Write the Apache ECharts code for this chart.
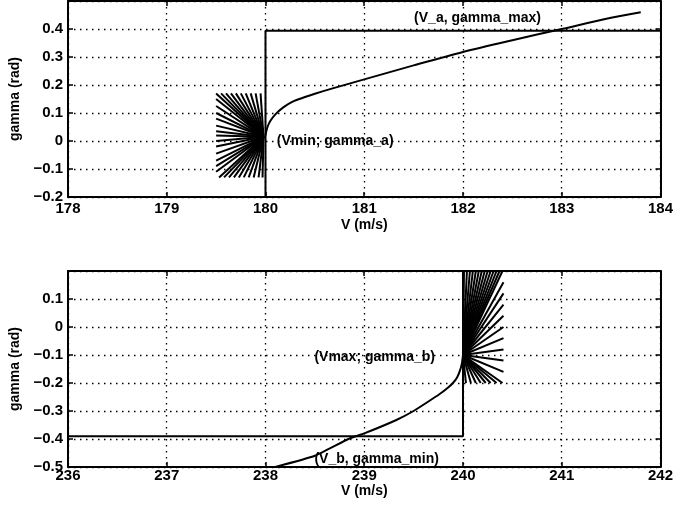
<!DOCTYPE html>
<html>
<head>
<meta charset="utf-8">
<script src="https://cdn.jsdelivr.net/npm/echarts@6/dist/echarts.min.js"></script>
<style>
  html, body { margin: 0; padding: 0; background: #fff; }
  #chart { width: 676px; height: 516px; }
</style>
</head>
<body>
<div id="chart"></div>
<script>
// upper subplot: near Vmin
var topCurveV = [180.0, 180.02, 180.05, 180.1, 180.18, 180.27, 180.4, 180.5, 180.68, 181.0, 181.5, 182.0, 182.5, 183.0, 183.5, 183.8];
var topCurveG = [0.02, 0.05, 0.072, 0.095, 0.12, 0.14, 0.157, 0.169, 0.188, 0.22, 0.27, 0.318, 0.36, 0.4, 0.44, 0.46];
var topBoundV = [184, 180, 180, 184];
var topBoundG = [-0.2, -0.2, 0.394, 0.394];
var fanACenter = [179.98, 0.015];
var fanAEndV = [179.50, 179.55, 179.60, 179.65, 179.70, 179.75, 179.80, 179.85, 179.90, 179.95,
                179.50, 179.50, 179.50, 179.50, 179.50, 179.50, 179.50, 179.50, 179.50, 179.50, 179.50, 179.50, 179.50,
                179.53, 179.58, 179.63, 179.68, 179.73, 179.78, 179.83, 179.88, 179.93, 179.97];
var fanAEndG = [0.17, 0.17, 0.17, 0.17, 0.17, 0.17, 0.17, 0.17, 0.17, 0.17,
                0.15, 0.125, 0.10, 0.08, 0.055, 0.035, 0.02, 0.0, -0.02, -0.045, -0.07, -0.09, -0.11,
                -0.13, -0.13, -0.13, -0.13, -0.13, -0.13, -0.13, -0.13, -0.13, -0.13];

// lower subplot: near Vmax
var botCurveV = [238.1, 238.5, 238.84, 239.0, 239.32, 239.5, 239.65, 239.75, 239.85, 239.9, 239.94, 239.97, 239.99, 240.0];
var botCurveG = [-0.5, -0.46, -0.4, -0.38, -0.333, -0.3, -0.266, -0.243, -0.216, -0.199, -0.18, -0.155, -0.128, -0.1];
var botBoundV = [236, 240, 240];
var botBoundG = [-0.39, -0.39, 0.2];
var fanBCenter = [240.0, -0.1];
var fanBEndV = [240.01, 240.04, 240.07, 240.10, 240.13, 240.16, 240.19, 240.22, 240.25, 240.28, 240.31, 240.34, 240.37, 240.40,
                240.41, 240.41, 240.41, 240.41, 240.41, 240.41, 240.41, 240.41, 240.41,
                240.03, 240.08, 240.13, 240.18, 240.23, 240.28, 240.34, 240.40];
var fanBEndG = [0.2, 0.2, 0.2, 0.2, 0.2, 0.2, 0.2, 0.2, 0.2, 0.2, 0.2, 0.2, 0.2, 0.2,
                0.16, 0.12, 0.08, 0.04, 0.0, -0.04, -0.08, -0.12, -0.16,
                -0.2, -0.2, -0.2, -0.2, -0.2, -0.2, -0.2, -0.2];

var topLabels = [
  { v: 180.11, g: 0.0, text: '(Vmin; gamma_a)' },
  { v: 181.5, g: 0.439, text: '(V_a, gamma_max)' }
];
var botLabels = [
  { v: 238.49, g: -0.107, text: '(Vmax; gamma_b)' },
  { v: 238.49, g: -0.471, text: '(V_b, gamma_min)' }
];

var topXRange = [178, 184], topYRange = [-0.2, 0.5];
var botXRange = [236, 242], botYRange = [-0.5, 0.2];

var FONT = '"Liberation Sans", Arial, sans-serif';

function zip(a, b) { return a.map(function (x, i) { return [x, b[i]]; }); }
function fan(c, ev, eg) {
  return ev.map(function (x, i) { return { coords: [c, [x, eg[i]]] }; });
}
function tickFmt(max) {
  return function (v) {
    if (Math.abs(v - max) < 1e-9) return '';
    if (Math.abs(v) < 1e-9) return '0';
    return parseFloat(v.toFixed(1)).toString().replace('-', '\u2212');
  };
}

var gridDots = { color: '#000', width: 1.3, type: [1.5, 4.5] };
var frame = { onZero: false, lineStyle: { color: '#000', width: 2 } };
var ticks = { inside: true, length: 5, lineStyle: { color: '#000', width: 1.5 } };

function xAxes(gi, range, margin, gap) {
  return [{
    type: 'value', gridIndex: gi, position: 'bottom', min: range[0], max: range[1], interval: 1,
    name: 'V (m/s)', nameLocation: 'middle', nameGap: gap,
    nameTextStyle: { color: '#000', fontFamily: FONT, fontWeight: 'bold', fontSize: 14 },
    axisLine: frame, axisTick: ticks,
    axisLabel: { color: '#000', fontFamily: FONT, fontWeight: 'bold', fontSize: 15, margin: margin },
    splitLine: { show: true, lineStyle: gridDots }
  }, {
    type: 'value', gridIndex: gi, position: 'top', min: range[0], max: range[1], interval: 1,
    axisLine: frame, axisTick: ticks,
    axisLabel: { show: false }, splitLine: { show: false }
  }];
}
function yAxes(gi, range) {
  return [{
    type: 'value', gridIndex: gi, position: 'left', min: range[0], max: range[1], interval: 0.1,
    name: 'gamma (rad)', nameLocation: 'middle', nameGap: 34, nameRotate: 90,
    nameTextStyle: { color: '#000', fontFamily: FONT, fontWeight: 'bold', fontSize: 14 },
    axisLine: frame, axisTick: ticks,
    axisLabel: { color: '#000', fontFamily: FONT, fontWeight: 'bold', fontSize: 15, margin: 5,
                 formatter: tickFmt(range[1]) },
    splitLine: { show: true, lineStyle: gridDots }
  }, {
    type: 'value', gridIndex: gi, position: 'right', min: range[0], max: range[1], interval: 0.1,
    axisLine: frame, axisTick: ticks,
    axisLabel: { show: false }, splitLine: { show: false }
  }];
}

function lineSeries(xi, data, w, smooth) {
  return {
    type: 'line', xAxisIndex: xi, yAxisIndex: xi, data: data, symbol: 'none', smooth: smooth,
    lineStyle: { color: '#000', width: w }, silent: true, animation: false, z: 5
  };
}
function fanSeries(xi, data) {
  return {
    type: 'lines', coordinateSystem: 'cartesian2d', xAxisIndex: xi, yAxisIndex: xi,
    data: data, lineStyle: { color: '#000', width: 2, opacity: 1 }, silent: true, animation: false, z: 4
  };
}
function labelSeries(xi, items) {
  return {
    type: 'scatter', xAxisIndex: xi, yAxisIndex: xi, symbolSize: 1, silent: true, animation: false, z: 6,
    itemStyle: { color: '#000', opacity: 0 },
    data: items.map(function (d) { return { value: [d.v, d.g], name: d.text }; }),
    label: {
      show: true, position: 'right', distance: 0, formatter: '{b}', opacity: 1,
      color: '#000', fontFamily: FONT, fontWeight: 'bold', fontSize: 14,
      textBorderWidth: 0
    }
  };
}

var chart = echarts.init(document.getElementById('chart'), null, { renderer: 'canvas' });
chart.setOption({
  backgroundColor: '#fff',
  animation: false,
  grid: [
    { left: 68, right: 13, top: 1, height: 196 },
    { left: 68, right: 13, top: 271, height: 196 }
  ],
  xAxis: xAxes(0, topXRange, 4, 21).concat(xAxes(1, botXRange, 1, 16)),
  yAxis: yAxes(0, topYRange).concat(yAxes(1, botYRange)),
  series: [
    lineSeries(0, zip(topBoundV, topBoundG), 2, false),
    lineSeries(0, zip(topCurveV, topCurveG), 2, 0.3),
    fanSeries(0, fan(fanACenter, fanAEndV, fanAEndG)),
    labelSeries(0, topLabels),
    lineSeries(2, zip(botBoundV, botBoundG), 2, false),
    lineSeries(2, zip(botCurveV, botCurveG), 2, 0.15),
    fanSeries(2, fan(fanBCenter, fanBEndV, fanBEndG)),
    labelSeries(2, botLabels)
  ]
});
</script>
</body>
</html>
